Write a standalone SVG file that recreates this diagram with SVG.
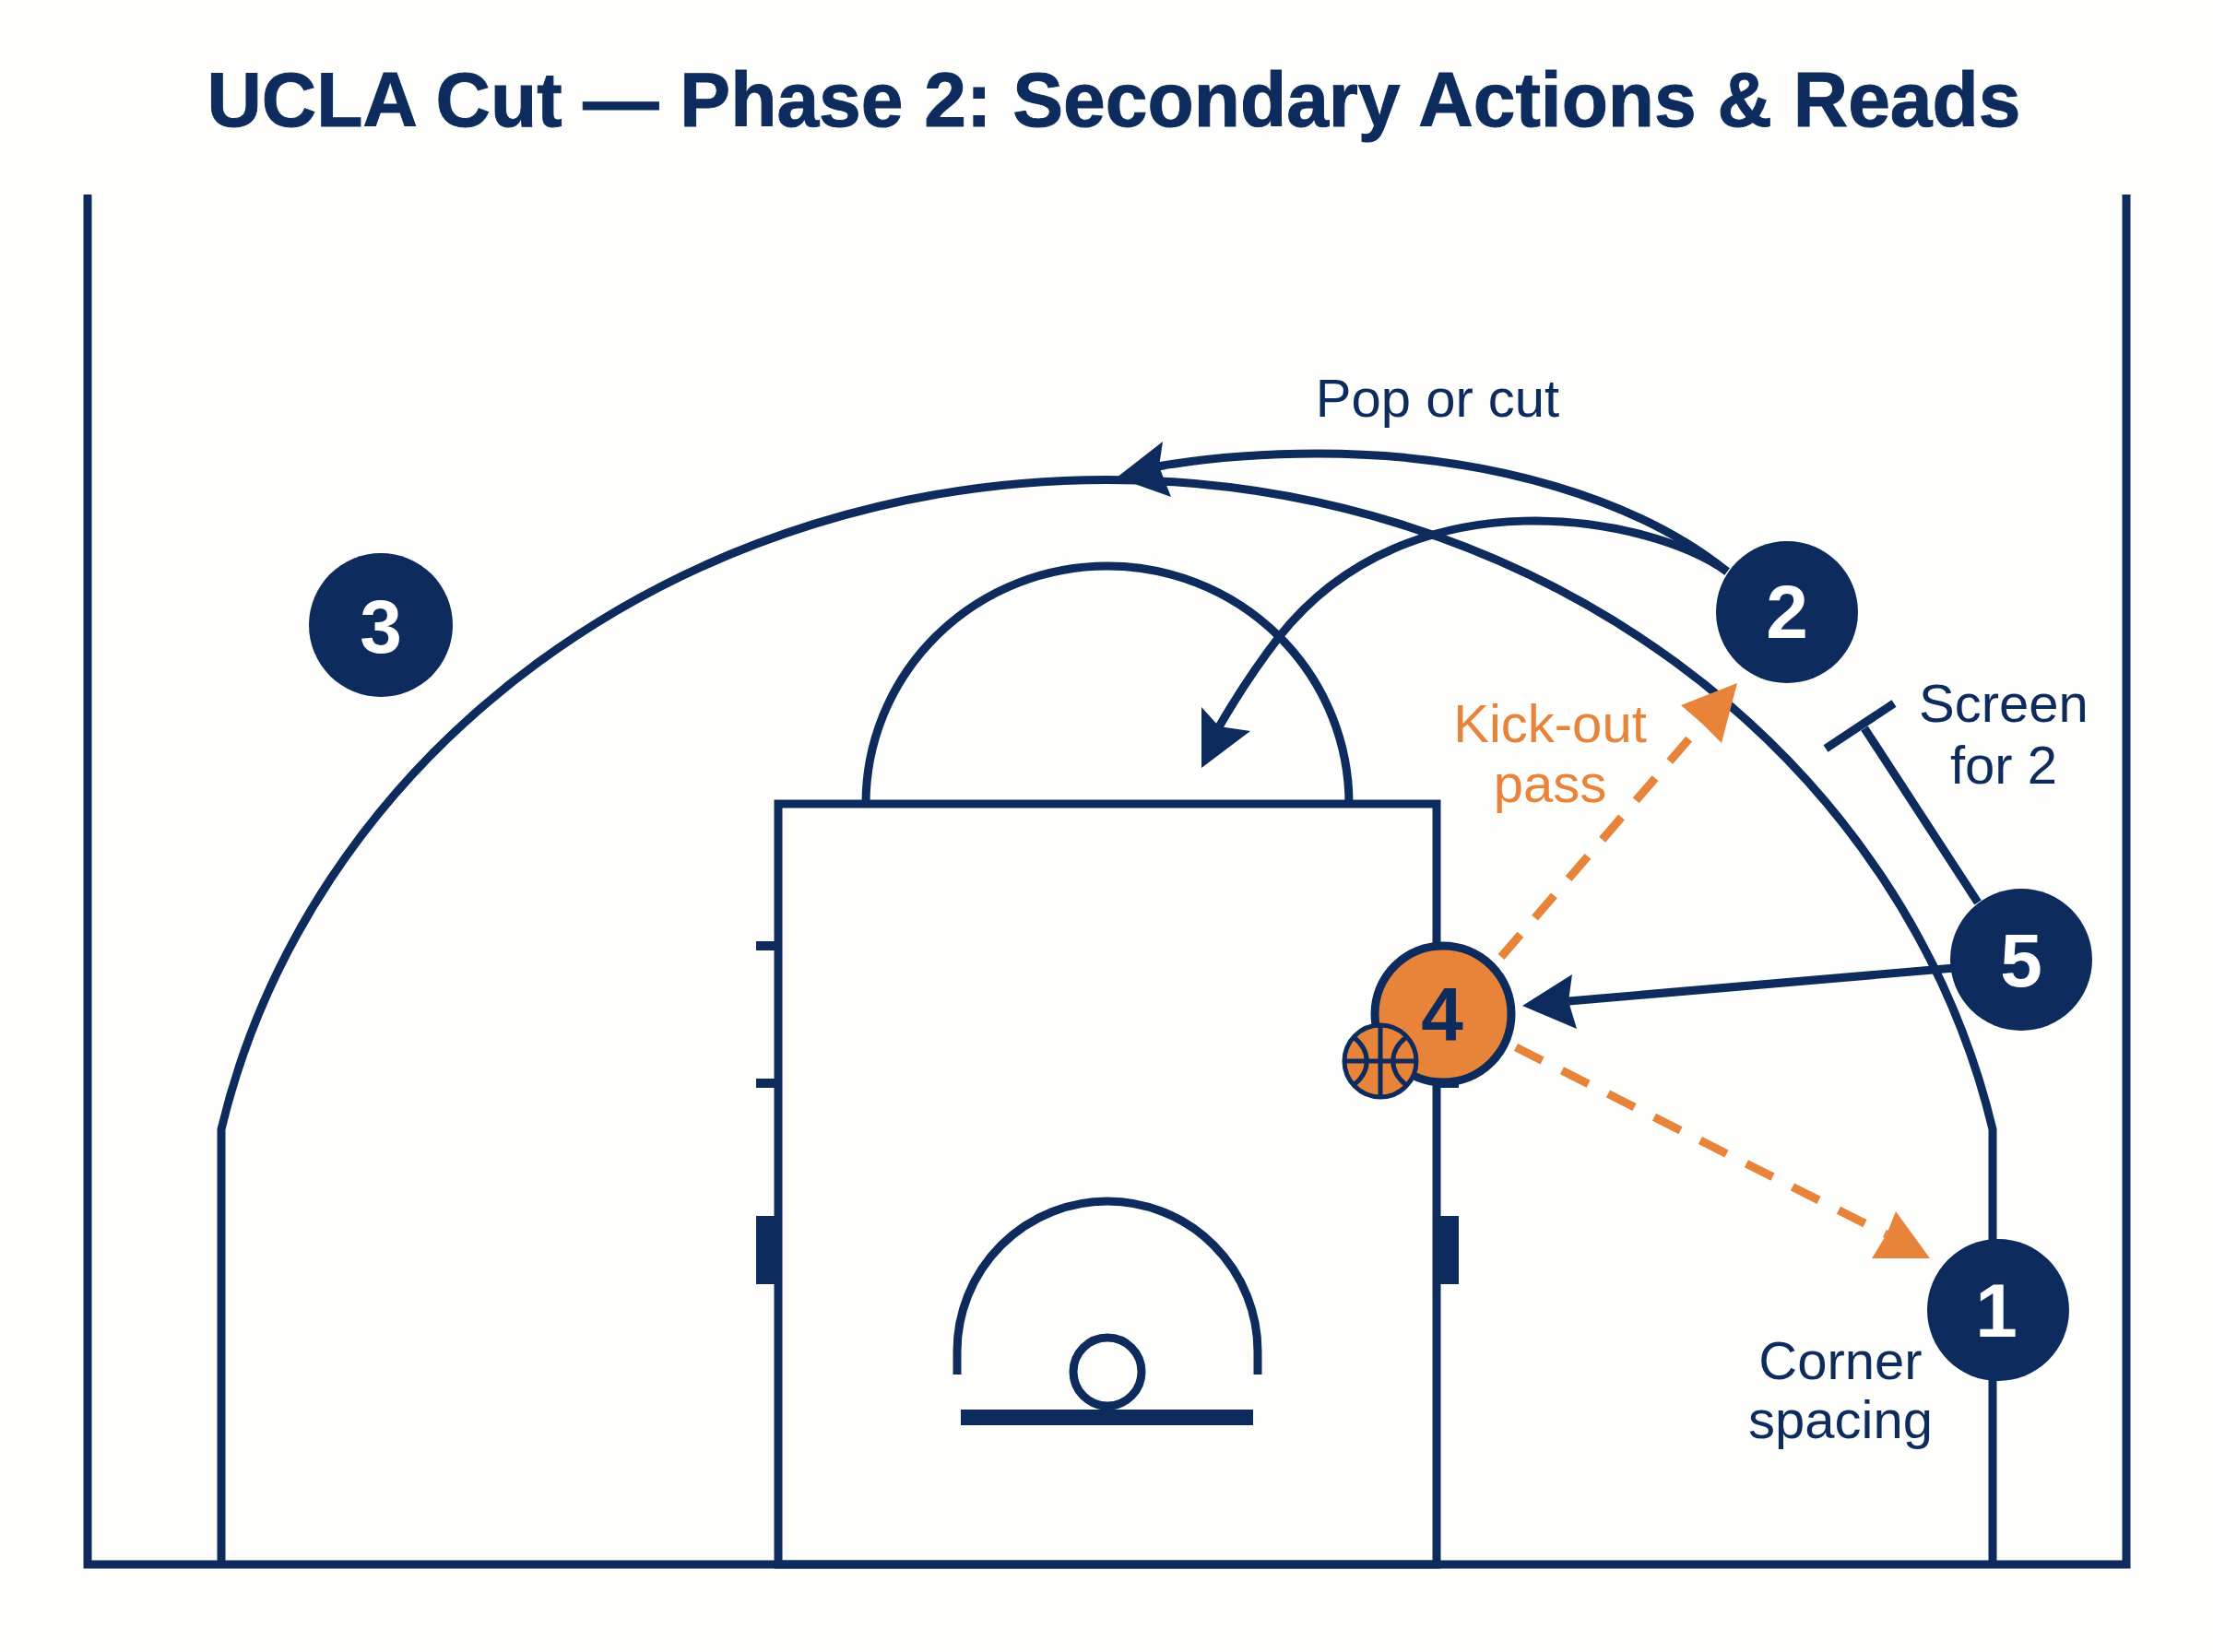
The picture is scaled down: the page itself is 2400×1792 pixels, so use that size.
<svg xmlns="http://www.w3.org/2000/svg" width="2400" height="1792" viewBox="0 0 2400 1792">
<style>
.l{fill:none;stroke:#0d2b5c;stroke-width:9}
.d{fill:none;stroke:#e8833a;stroke-width:9;stroke-dasharray:32 24}
.h{fill:#0d2b5c}
.o{fill:#e8833a}
text{font-family:"Liberation Sans",Arial,sans-serif}
.t{font-size:58px;fill:#0d2b5c;text-anchor:middle}
.k{font-size:58px;fill:#e8833a;text-anchor:middle}
.n{font-size:82px;font-weight:700;fill:#fff;text-anchor:middle}
.ball{fill:none;stroke:#0d2b5c;stroke-width:5}
</style>
<rect width="2400" height="1792" fill="#fefefc"/>
<text x="1208" y="137" text-anchor="middle" font-size="83" font-weight="700" fill="#0d2b5c" stroke="#0d2b5c" stroke-width="1" textLength="1967" lengthAdjust="spacingAndGlyphs">UCLA Cut — Phase 2: Secondary Actions &amp; Reads</text>
<g id="court">
<path class="l" d="M95 211V1697H2306V211"/>
<path class="l" d="M240 1697V1225A983 895 0 0 1 2161 1225V1697"/>
<rect class="l" x="844" y="872" width="714" height="825"/>
<path class="l" d="M939 872A262 258 0 0 1 1463 872"/>
<path class="l" d="M1038 1491V1466A163 163 0 0 1 1364 1466V1491"/>
<circle class="l" cx="1201" cy="1488" r="37"/>
<rect class="h" x="1042" y="1529" width="317" height="17"/>
<rect class="h" x="820" y="1021" width="24" height="10"/>
<rect class="h" x="820" y="1170" width="24" height="10"/>
<rect class="h" x="1558" y="1170" width="24" height="10"/>
<rect class="h" x="820" y="1319" width="28" height="74"/>
<rect class="h" x="1558" y="1319" width="24" height="74"/>
</g>
<g id="connectors">
<path class="l" d="M1873 620C1780 545 1620 492 1429 492C1365 492 1305 497 1250 507"/>
<polygon class="h" points="1211,518 1261,479 1257,506 1270,539"/>
<path class="l" d="M1873 620C1790 560 1530 510 1387 691C1360 726 1340 757 1320 792"/>
<polygon class="h" points="1303,833 1303,767 1322,788 1356,793"/>
<path class="l" d="M2145 979L2022 790"/>
<path class="l" d="M1980 812L2054 763"/>
<path class="l" d="M2120 1050L1701 1086"/>
<polygon class="h" points="1651,1091 1705,1057 1701,1086 1710,1116"/>
<path class="d" d="M1628 1038L1846 785"/>
<polygon class="o" points="1884,741 1823,765 1846,785 1867,806"/>
<path class="d" d="M1644 1136L2046 1339"/>
<polygon class="o" points="2093,1365 2056,1314 2046,1339 2030,1365"/>
</g>
<g id="node-3"><circle class="h" cx="413" cy="678" r="78"/><text class="n" x="413" y="708">3</text></g>
<g id="node-2"><circle class="h" cx="1938" cy="664" r="77"/><text class="n" x="1938" y="692">2</text></g>
<g id="node-5"><circle class="h" cx="2192" cy="1041" r="77"/><text class="n" x="2192" y="1070">5</text></g>
<g id="node-1"><circle class="h" cx="2167" cy="1421" r="77"/><text class="n" x="2165" y="1450">1</text></g>
<g id="node-4"><circle class="o" stroke="#0d2b5c" stroke-width="9" cx="1565" cy="1100" r="74"/><text class="n" x="1564" y="1128" style="fill:#0d2b5c">4</text></g>
<g id="ball">
<circle class="o" stroke="#0d2b5c" stroke-width="5" cx="1497" cy="1151" r="39"/>
<path class="ball" d="M1497 1112V1190M1458 1151H1536M1468 1125C1487 1140 1487 1162 1468 1177M1525 1125C1506 1140 1506 1162 1525 1177"/>
</g>
<g id="labels">
<text class="t" x="1559" y="452">Pop or cut</text>
<text class="k" x="1681" y="805">Kick-out</text>
<text class="k" x="1681" y="870">pass</text>
<text class="t" x="2173" y="783">Screen</text>
<text class="t" x="2173" y="850">for 2</text>
<text class="t" x="1996" y="1496">Corner</text>
<text class="t" x="1996" y="1560">spacing</text>
</g>
</svg>
